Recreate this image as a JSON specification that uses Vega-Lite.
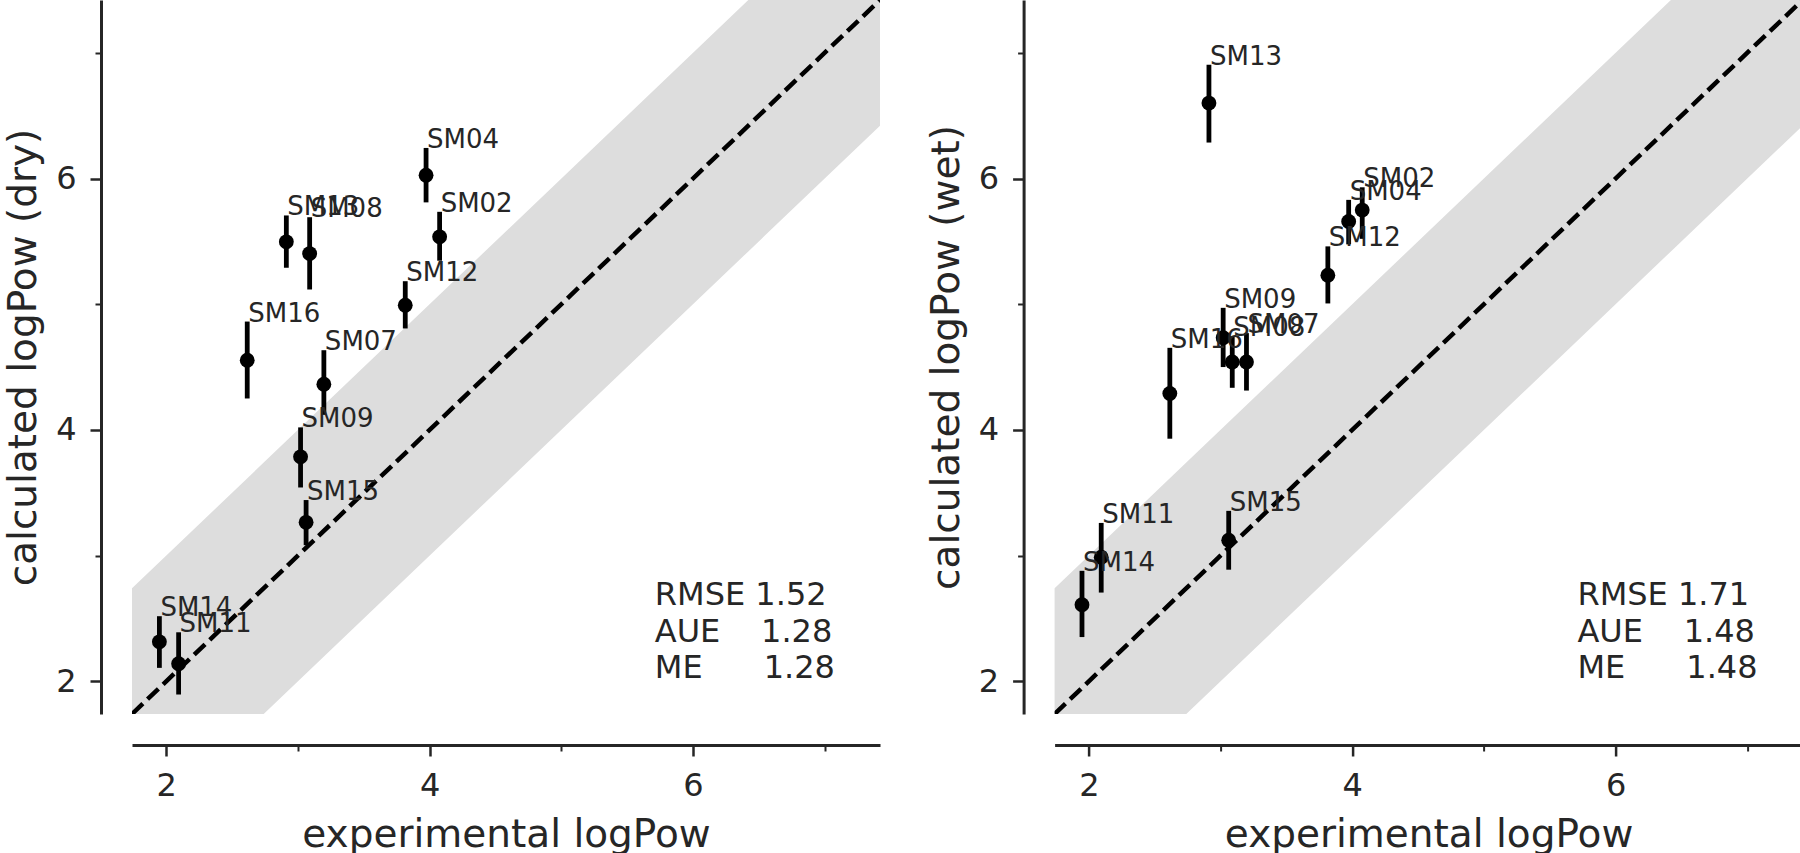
{
  "$schema": "https://vega.github.io/schema/vega-lite/v6.json",
  "background": "white",
  "padding": {"left": 4, "top": 0, "right": 0, "bottom": 0},
  "bounds": "flush",
  "spacing": 174.6,
  "config": {
    "font": "DejaVu Sans",
    "view": {"stroke": null},
    "axis": {
      "grid": false,
      "domainColor": "#262626",
      "domainWidth": 3,
      "tickColor": "#262626",
      "tickWidth": 2.5,
      "labelColor": "#262626",
      "labelFont": "DejaVu Sans",
      "labelFontSize": 32,
      "labelPadding": 14,
      "titleColor": "#262626",
      "titleFont": "DejaVu Sans",
      "titleFontSize": 39,
      "titleFontWeight": "normal",
      "offset": 31
    }
  },
  "datasets": {
    "dry": [
      {"id": "SM02", "exp": 4.076, "calc": 5.536, "lo": 5.346, "hi": 5.735},
      {"id": "SM04", "exp": 3.973, "calc": 6.026, "lo": 5.81, "hi": 6.243},
      {"id": "SM07", "exp": 3.197, "calc": 4.364, "lo": 4.12, "hi": 4.634},
      {"id": "SM08", "exp": 3.089, "calc": 5.403, "lo": 5.117, "hi": 5.692},
      {"id": "SM09", "exp": 3.02, "calc": 3.786, "lo": 3.542, "hi": 4.02},
      {"id": "SM11", "exp": 2.094, "calc": 2.14, "lo": 1.895, "hi": 2.39},
      {"id": "SM12", "exp": 3.815, "calc": 4.992, "lo": 4.807, "hi": 5.183},
      {"id": "SM13", "exp": 2.912, "calc": 5.496, "lo": 5.29, "hi": 5.706},
      {"id": "SM14", "exp": 1.948, "calc": 2.314, "lo": 2.107, "hi": 2.518},
      {"id": "SM15", "exp": 3.062, "calc": 3.265, "lo": 3.083, "hi": 3.442},
      {"id": "SM16", "exp": 2.615, "calc": 4.554, "lo": 4.25, "hi": 4.862}
    ],
    "wet": [
      {"id": "SM02", "exp": 4.076, "calc": 5.749, "lo": 5.52, "hi": 5.93},
      {"id": "SM04", "exp": 3.973, "calc": 5.658, "lo": 5.476, "hi": 5.83},
      {"id": "SM07", "exp": 3.197, "calc": 4.54, "lo": 4.313, "hi": 4.77},
      {"id": "SM08", "exp": 3.089, "calc": 4.54, "lo": 4.335, "hi": 4.745},
      {"id": "SM09", "exp": 3.02, "calc": 4.733, "lo": 4.5, "hi": 4.971},
      {"id": "SM11", "exp": 2.094, "calc": 2.987, "lo": 2.706, "hi": 3.26},
      {"id": "SM12", "exp": 3.815, "calc": 5.231, "lo": 5.006, "hi": 5.46},
      {"id": "SM13", "exp": 2.912, "calc": 6.6, "lo": 6.286, "hi": 6.905},
      {"id": "SM14", "exp": 1.948, "calc": 2.61, "lo": 2.352, "hi": 2.879},
      {"id": "SM15", "exp": 3.062, "calc": 3.122, "lo": 2.888, "hi": 3.356},
      {"id": "SM16", "exp": 2.615, "calc": 4.29, "lo": 3.93, "hi": 4.653}
    ],
    "band": [
      {"bx": 1.74, "blo": 1.74, "bhi": 2.74},
      {"bx": 2.74, "blo": 1.74, "bhi": 3.74},
      {"bx": 6.42, "blo": 5.42, "bhi": 7.42},
      {"bx": 7.42, "blo": 6.42, "bhi": 7.42}
    ],
    "diag": [
      {"dx": 1.74, "dy": 1.74},
      {"dx": 7.42, "dy": 7.42}
    ]
  },
  "hconcat": [
    {
      "width": 748,
      "height": 714,
      "resolve": {"axis": {"x": "independent", "y": "independent"}},
      "layer": [
        {
          "layer": [
            {
              "data": {"name": "band"},
              "mark": {"type": "area", "color": "#dddddd", "opacity": 1},
              "encoding": {
                "x": {"field": "bx", "type": "quantitative", "scale": {"domain": [1.74, 7.42], "nice": false, "zero": false},
                      "axis": {"orient": "bottom", "values": [2, 4, 6], "format": "d", "tickSize": 11, "title": "experimental logPow", "titlePadding": 14}},
                "y": {"field": "blo", "type": "quantitative", "scale": {"domain": [1.74, 7.42], "nice": false, "zero": false},
                      "axis": {"orient": "left", "values": [2, 4, 6], "format": "d", "tickSize": 11, "title": "calculated logPow (dry)", "titlePadding": 12}},
                "y2": {"field": "bhi"}
              }
            },
            {
              "data": {"name": "diag"},
              "mark": {"type": "line", "color": "black", "strokeWidth": 4.5, "strokeDash": [15, 6.5], "clip": true},
              "encoding": {
                "x": {"field": "dx", "type": "quantitative", "title": "experimental logPow"},
                "y": {"field": "dy", "type": "quantitative", "title": "calculated logPow (dry)"}
              }
            },
            {
              "data": {"name": "dry"},
              "mark": {"type": "rule", "color": "black", "strokeWidth": 4.8},
              "encoding": {
                "x": {"field": "exp", "type": "quantitative", "title": "experimental logPow"},
                "y": {"field": "lo", "type": "quantitative", "title": "calculated logPow (dry)"},
                "y2": {"field": "hi"}
              }
            },
            {
              "data": {"name": "dry"},
              "mark": {"type": "point", "filled": true, "color": "black", "opacity": 1, "size": 220},
              "encoding": {
                "x": {"field": "exp", "type": "quantitative", "title": "experimental logPow"},
                "y": {"field": "calc", "type": "quantitative", "title": "calculated logPow (dry)"}
              }
            },
            {
              "data": {"name": "dry"},
              "mark": {"type": "text", "align": "left", "baseline": "alphabetic", "fontSize": 26, "color": "#262626", "dx": 1},
              "encoding": {
                "x": {"field": "exp", "type": "quantitative", "title": "experimental logPow"},
                "y": {"field": "hi", "type": "quantitative", "title": "calculated logPow (dry)"},
                "text": {"field": "id"}
              }
            },
            {
              "data": {"values": [{"stat": "dry"}]},
              "mark": {"type": "text", "align": "left", "baseline": "alphabetic", "fontSize": 32, "lineHeight": 36.5, "color": "#262626"},
              "encoding": {
                "x": {"datum": 5.71, "type": "quantitative"},
                "y": {"datum": 2.605, "type": "quantitative"},
                "text": {"value": ["RMSE 1.52", "AUE\u00a0\u00a0\u00a0\u00a01.28", "ME\u00a0\u00a0\u00a0\u00a0\u00a0\u00a01.28"]}
              }
            }
          ]
        },
        {
          "data": {"name": "band"},
          "mark": {"type": "area", "opacity": 0},
          "encoding": {
            "x": {"field": "bx", "type": "quantitative", "scale": {"domain": [1.74, 7.42], "nice": false, "zero": false},
                  "axis": {"orient": "bottom", "values": [3, 5, 7], "tickSize": 6, "tickWidth": 2, "labels": false, "domain": false, "title": null}},
            "y": {"field": "blo", "type": "quantitative", "scale": {"domain": [1.74, 7.42], "nice": false, "zero": false},
                  "axis": {"orient": "left", "values": [3, 5, 7], "tickSize": 6, "tickWidth": 2, "labels": false, "domain": false, "title": null}},
            "y2": {"field": "bhi"}
          }
        }
      ]
    },
    {
      "width": 748,
      "height": 714,
      "resolve": {"axis": {"x": "independent", "y": "independent"}},
      "layer": [
        {
          "layer": [
            {
              "data": {"name": "band"},
              "mark": {"type": "area", "color": "#dddddd", "opacity": 1},
              "encoding": {
                "x": {"field": "bx", "type": "quantitative", "scale": {"domain": [1.74, 7.42], "nice": false, "zero": false},
                      "axis": {"orient": "bottom", "values": [2, 4, 6], "format": "d", "tickSize": 11, "title": "experimental logPow", "titlePadding": 14}},
                "y": {"field": "blo", "type": "quantitative", "scale": {"domain": [1.74, 7.42], "nice": false, "zero": false},
                      "axis": {"orient": "left", "values": [2, 4, 6], "format": "d", "tickSize": 11, "title": "calculated logPow (wet)", "titlePadding": 12}},
                "y2": {"field": "bhi"}
              }
            },
            {
              "data": {"name": "diag"},
              "mark": {"type": "line", "color": "black", "strokeWidth": 4.5, "strokeDash": [15, 6.5], "clip": true},
              "encoding": {
                "x": {"field": "dx", "type": "quantitative", "title": "experimental logPow"},
                "y": {"field": "dy", "type": "quantitative", "title": "calculated logPow (wet)"}
              }
            },
            {
              "data": {"name": "wet"},
              "mark": {"type": "rule", "color": "black", "strokeWidth": 4.8},
              "encoding": {
                "x": {"field": "exp", "type": "quantitative", "title": "experimental logPow"},
                "y": {"field": "lo", "type": "quantitative", "title": "calculated logPow (wet)"},
                "y2": {"field": "hi"}
              }
            },
            {
              "data": {"name": "wet"},
              "mark": {"type": "point", "filled": true, "color": "black", "opacity": 1, "size": 220},
              "encoding": {
                "x": {"field": "exp", "type": "quantitative", "title": "experimental logPow"},
                "y": {"field": "calc", "type": "quantitative", "title": "calculated logPow (wet)"}
              }
            },
            {
              "data": {"name": "wet"},
              "mark": {"type": "text", "align": "left", "baseline": "alphabetic", "fontSize": 26, "color": "#262626", "dx": 1},
              "encoding": {
                "x": {"field": "exp", "type": "quantitative", "title": "experimental logPow"},
                "y": {"field": "hi", "type": "quantitative", "title": "calculated logPow (wet)"},
                "text": {"field": "id"}
              }
            },
            {
              "data": {"values": [{"stat": "wet"}]},
              "mark": {"type": "text", "align": "left", "baseline": "alphabetic", "fontSize": 32, "lineHeight": 36.5, "color": "#262626"},
              "encoding": {
                "x": {"datum": 5.71, "type": "quantitative"},
                "y": {"datum": 2.605, "type": "quantitative"},
                "text": {"value": ["RMSE 1.71", "AUE\u00a0\u00a0\u00a0\u00a01.48", "ME\u00a0\u00a0\u00a0\u00a0\u00a0\u00a01.48"]}
              }
            }
          ]
        },
        {
          "data": {"name": "band"},
          "mark": {"type": "area", "opacity": 0},
          "encoding": {
            "x": {"field": "bx", "type": "quantitative", "scale": {"domain": [1.74, 7.42], "nice": false, "zero": false},
                  "axis": {"orient": "bottom", "values": [3, 5, 7], "tickSize": 6, "tickWidth": 2, "labels": false, "domain": false, "title": null}},
            "y": {"field": "blo", "type": "quantitative", "scale": {"domain": [1.74, 7.42], "nice": false, "zero": false},
                  "axis": {"orient": "left", "values": [3, 5, 7], "tickSize": 6, "tickWidth": 2, "labels": false, "domain": false, "title": null}},
            "y2": {"field": "bhi"}
          }
        }
      ]
    }
  ]
}
